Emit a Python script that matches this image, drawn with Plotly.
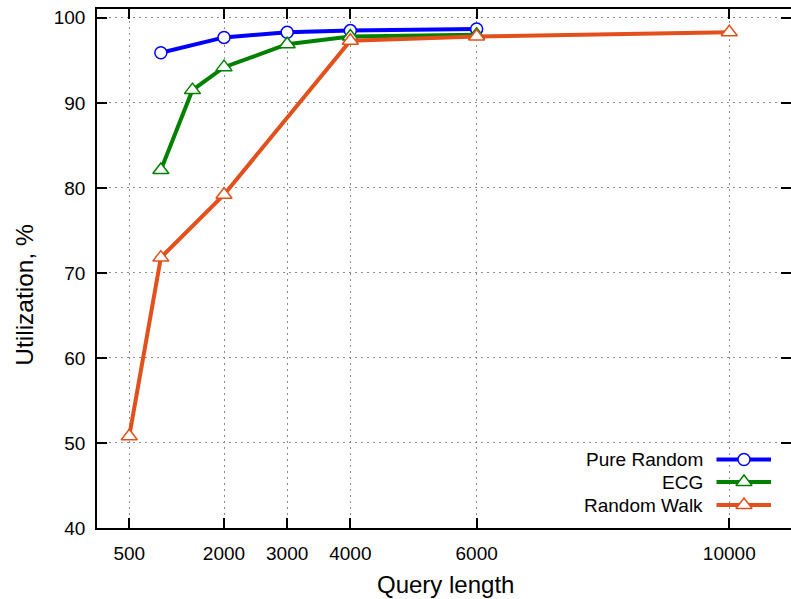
import plotly.graph_objects as go

# ---- data ----
pure_random_x = [1000, 2000, 3000, 4000, 6000]
pure_random_y = [95.9, 97.7, 98.3, 98.5, 98.7]

ecg_x = [1000, 1500, 2000, 3000, 4000, 6000]
ecg_y = [82.1, 91.5, 94.2, 96.9, 97.8, 98.0]

random_walk_x = [500, 1000, 2000, 4000, 6000, 10000]
random_walk_y = [50.8, 71.8, 79.2, 97.3, 97.8, 98.3]

x_ticks = [500, 2000, 3000, 4000, 6000, 10000]
y_ticks = [40, 50, 60, 70, 80, 90, 100]

series_names = ["Pure Random", "ECG", "Random Walk"]
x_title = "Query length"
y_title = "Utilization, %"
# ---------------

BLUE = "#0000ff"
GREEN = "#008000"
ORANGE = "#e2501c"
FONT = "Liberation Sans, Arial, sans-serif"

L, R, T, B = 97, 791, 9, 528.5   # plot area in pixels
PW, PH = R - L, B - T

series = [
    (series_names[0], pure_random_x, pure_random_y, BLUE, "circle", 12),
    (series_names[1], ecg_x, ecg_y, GREEN, "triangle-up", 14),
    (series_names[2], random_walk_x, random_walk_y, ORANGE, "triangle-up", 14),
]

fig = go.Figure()
for name, xs, ys, col, sym, sz in series:
    fig.add_trace(go.Scatter(
        x=xs, y=ys, mode="lines+markers", name=name,
        line=dict(color=col, width=4),
        marker=dict(symbol=sym, size=sz, color="white",
                    line=dict(color=col, width=1.5)),
        showlegend=False, hoverinfo="skip", cliponaxis=False,
    ))

# gnuplot-style legend (text left, sample right) on a pixel overlay axis
leg_rows = [460, 482.5, 505.5]
for (name, xs, ys, col, sym, sz), ry in zip(series, leg_rows):
    fig.add_trace(go.Scatter(
        x=[716.5, 771], y=[ry, ry], mode="lines", xaxis="x2", yaxis="y2",
        line=dict(color=col, width=4), showlegend=False, hoverinfo="skip",
    ))
    fig.add_trace(go.Scatter(
        x=[744], y=[ry], mode="markers", xaxis="x2", yaxis="y2",
        marker=dict(symbol=sym, size=sz, color="white",
                    line=dict(color=col, width=1.5)),
        showlegend=False, hoverinfo="skip",
    ))
    fig.add_annotation(x=705, y=ry, xref="x2", yref="y2", text=name,
                       showarrow=False, xanchor="right", yanchor="middle",
                       font=dict(family=FONT, size=19, color="black"))

axis_common = dict(
    showline=True, linecolor="black", linewidth=1.5, mirror="allticks",
    ticks="inside", ticklen=10, tickwidth=1.5, tickcolor="black",
    showgrid=True, gridcolor="#8c8c8c", gridwidth=1, griddash="2px,4px",
    zeroline=False, automargin=False,
    tickfont=dict(family=FONT, size=19, color="black"),
)

fig.update_layout(
    width=791, height=599,
    margin=dict(l=L, r=791 - R, t=T, b=599 - B),
    paper_bgcolor="white", plot_bgcolor="white",
    xaxis=dict(range=[-11, 10977], tickvals=x_ticks,
               ticktext=[str(v) for v in x_ticks],
               ticklabelstandoff=7, **axis_common),
    yaxis=dict(range=[40, 101.04], tickvals=y_ticks,
               ticklabelstandoff=6, **axis_common),
    xaxis2=dict(range=[L, R], overlaying="x", anchor="y2", visible=False),
    yaxis2=dict(range=[B, T], overlaying="y", anchor="x2", visible=False),
    showlegend=False,
)

fig.add_annotation(x=(25 - L) / PW, y=(B - 295) / PH, xref="paper", yref="paper",
                   text=y_title, textangle=-90, showarrow=False,
                   xanchor="center", yanchor="middle",
                   font=dict(family=FONT, size=24.5, color="black"))
fig.add_annotation(x=(445 - L) / PW, y=(B - 585) / PH, xref="paper", yref="paper",
                   text=x_title, showarrow=False,
                   xanchor="center", yanchor="middle",
                   font=dict(family=FONT, size=24, color="black"))

fig.write_html("out.html", config={"displayModeBar": False},
               post_script="document.body.style.margin='0';document.body.style.overflow='hidden';")
